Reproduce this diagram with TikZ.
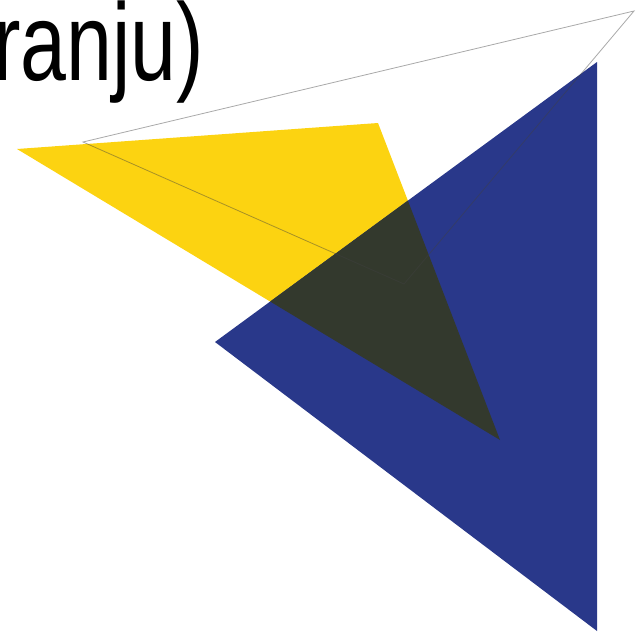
\documentclass[tikz,border=0pt]{standalone}
\usepackage{graphicx}
\usepackage{fontspec}
\setmainfont{Liberation Sans}
\usepackage{xcolor}
\definecolor{sunyellow}{RGB}{252,211,17}
\definecolor{deepblue}{RGB}{41,56,138}
\definecolor{mixdark}{RGB}{51,57,45}
\tikzset{
  yellowtri/.style={fill=sunyellow,draw=none},
  bluetri/.style={fill=deepblue,draw=none},
  overlap/.style={fill=mixdark,draw=none},
  guide/.style={draw=black!75,opacity=.45,line width=.8pt,line join=miter},
}

\begin{document}
\begin{tikzpicture}[x=1pt,y=-1pt]
  \useasboundingbox (0,0) rectangle (637,632);
  % title, cut at the left edge
  \node[anchor=base west,inner sep=0pt] (title) at (-7,80)
    {\scalebox{0.75}[1]{\fontsize{110}{110}\selectfont ranju)}};
  % corners
  \coordinate (ya) at (17,149);
  \coordinate (yb) at (378,123);
  \coordinate (yc) at (500,440);
  \coordinate (ba) at (215,342);
  \coordinate (bb) at (597,62);
  \coordinate (bc) at (597,631);
  \coordinate (ga) at (83,142);
  \coordinate (gb) at (634,11);
  \coordinate (gc) at (404,284);
  % triangles
  \fill[yellowtri] (ya) -- (yb) -- (yc) -- cycle;
  \fill[bluetri] (ba) -- (bb) -- (bc) -- cycle;
  \begin{scope}
    \clip (ya) -- (yb) -- (yc) -- cycle;
    \fill[overlap] (ba) -- (bb) -- (bc) -- cycle;
  \end{scope}
  % thin outline
  \draw[guide] (ga) -- (gb) -- (gc) -- cycle;
\end{tikzpicture}
\end{document}
